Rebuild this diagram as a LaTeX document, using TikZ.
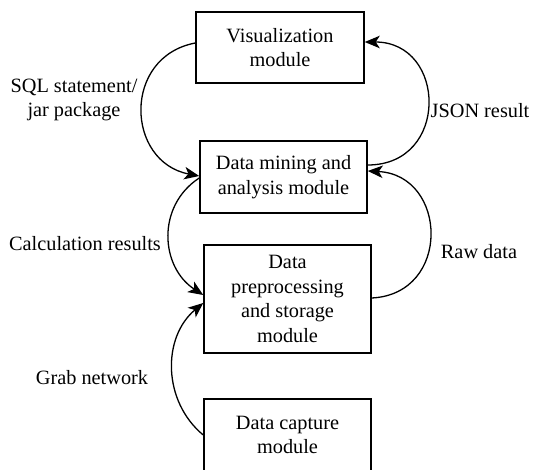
\documentclass[tikz,border=0pt]{standalone}
\usepackage{fontspec}
\setmainfont{Liberation Serif}
\usetikzlibrary{arrows.meta,calc}
\begin{document}
\begin{tikzpicture}[x=1pt,y=-1pt,
  txt/.style={font=\fontsize{20.3}{24.6}\selectfont},
  box/.style={txt, draw, line width=1.5pt, align=center, inner sep=0pt,
              minimum width=167pt},
  lbl/.style={txt, align=center, inner sep=0pt},
  flow/.style={line width=1.3pt, -{Stealth[length=15pt,width=12.5pt,inset=4pt]}}]
\useasboundingbox (0,0) rectangle (535,469);

% modules
\node[box, minimum width=168pt, minimum height=71pt] (vis) at (280,47.5) {Visualization\\module};
\node[box, minimum height=72pt] (dm) at (283.5,177) {Data mining and\\analysis module};
\node[box, minimum height=108pt] (prep) at (287.5,299) {Data\\preprocessing\\and storage\\module};
\node[box, minimum height=72pt] (cap) at (287.5,435) {Data capture\\module};

% labels
\node[lbl] (lsql) at (74,100) {SQL statement/\\jar package};
\node[lbl, anchor=base] (ljson) at (480,117) {JSON result};
\node[lbl, anchor=base] (lraw) at (479,258) {Raw data};
\node[lbl, anchor=base] (lcalc) at (85,250) {Calculation results};
\node[lbl, anchor=base] (lgrab) at (92,384) {Grab network};

% connectors
\draw[flow] ($(vis.west)+(0,-4.5)$) .. controls +(-73.4,14) and +(-73.4,-14) .. ($(dm.west)+(0,-1)$);
\draw[flow] ($(dm.east)+(0,-12)$) .. controls +(82,0) and +(82,0) .. ($(vis.east)+(0,-5.5)$);
\draw[flow] ($(prep.east)+(0,-1)$) .. controls +(80,-4) and +(80,4) .. ($(dm.east)+(0,-6)$);
\draw[flow] ($(dm.west)+(0,1)$) .. controls +(-43,28) and +(-43,-28) .. ($(prep.west)+(0,-4)$);
\draw[flow] (cap.west) .. controls +(-41,-34) and +(-41,34) .. ($(prep.west)+(0,4)$);
\end{tikzpicture}
\end{document}
